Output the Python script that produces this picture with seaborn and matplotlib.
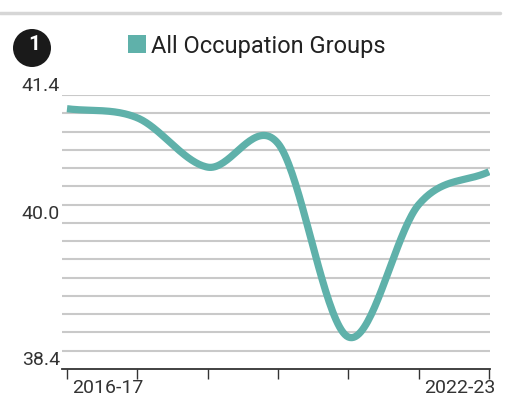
import numpy as np
import pandas as pd
import seaborn as sns
import matplotlib.pyplot as plt
import matplotlib as mpl
from matplotlib.patches import Patch, Ellipse
from matplotlib.lines import Line2D
from matplotlib.transforms import ScaledTranslation

years = ["2016-17", "2017-18", "2018-19", "2019-20", "2020-21", "2021-22", "2022-23"]
values = [41.25, 41.15, 40.61, 40.87, 38.75, 40.20, 40.56]
series_name = "All Occupation Groups"
y_labels = {41.4: "41.4", 40.0: "40.0", 38.4: "38.4"}

line_color = "#5fb1aa"
grid_color = "#c9c9c9"

sns.set_style("white")
mpl.rcParams["font.family"] = ["Roboto", "DejaVu Sans"]


def smooth(xs, ys, n=40):
    # catmull-rom so the curve passes through every point
    xs = np.asarray(xs, float)
    ys = np.asarray(ys, float)
    m = np.gradient(ys, xs)
    out_x, out_y = [], []
    for i in range(len(xs) - 1):
        t = np.linspace(0, 1, n, endpoint=False)
        h = xs[i + 1] - xs[i]
        h00 = 2 * t**3 - 3 * t**2 + 1
        h10 = t**3 - 2 * t**2 + t
        h01 = -2 * t**3 + 3 * t**2
        h11 = t**3 - t**2
        out_x.append(xs[i] + t * h)
        out_y.append(h00 * ys[i] + h10 * h * m[i] + h01 * ys[i + 1] + h11 * h * m[i + 1])
    out_x.append([xs[-1]])
    out_y.append([ys[-1]])
    return np.concatenate(out_x), np.concatenate(out_y)


xs = np.arange(len(years))
sx, sy = smooth(xs, values)
df = pd.DataFrame({"x": sx, "value": sy})

fig = plt.figure(figsize=(5.1, 4.08), dpi=100)
ax = fig.add_axes([62 / 510, 39 / 408, 428 / 510, 274 / 408])

grid_vals = np.round(np.arange(38.4, 41.41, 0.2), 1)
for g in grid_vals[1:]:
    ax.axhline(g, color=grid_color, lw=1.5, zorder=0)

sns.lineplot(data=df, x="x", y="value", color=line_color, lw=5.2,
             solid_capstyle="butt", ax=ax, legend=False, zorder=3)

ax.set_xlim(-0.071, 6.014)
ax.set_ylim(38.4, 41.4)
ax.set_xlabel("")
ax.set_ylabel("")

ax.set_yticks(grid_vals)
ax.set_yticklabels([y_labels.get(float(g), "") for g in grid_vals], fontsize=14, color="#333333")
for lab in ax.get_yticklabels():
    lab.set_verticalalignment("bottom")
ax.tick_params(axis="y", length=0, pad=1.5)

ax.set_xticks(xs)
ax.set_xticklabels([y if i in (0, len(years) - 1) else "" for i, y in enumerate(years)],
                   fontsize=14, color="#333333")
ax.tick_params(axis="x", bottom=True, length=7.5, width=1.0, color="#333333", pad=0,
               direction="out")
xl = ax.get_xticklabels()
xl[0].set_horizontalalignment("left")
xl[0].set_transform(xl[0].get_transform() + ScaledTranslation(5 / 100, 0, fig.dpi_scale_trans))
xl[-1].set_horizontalalignment("right")
xl[-1].set_transform(xl[-1].get_transform() + ScaledTranslation(6 / 100, 0, fig.dpi_scale_trans))

sns.despine(ax=ax, left=True)
ax.spines["bottom"].set_color("#333333")
ax.spines["bottom"].set_linewidth(1.3)

handle = Patch(facecolor=line_color, edgecolor="none")
fig.legend([handle], [series_name], loc="center left", bbox_to_anchor=(128 / 510, 1 - 46 / 408),
           frameon=False, fontsize=17, handlelength=0.78, handleheight=0.78,
           handletextpad=0.2, borderpad=0, borderaxespad=0, labelcolor="#222222")

# badge and top rule
fig.add_artist(Ellipse((32 / 510, 1 - 48 / 408), 38 / 510, 38 / 408,
                       transform=fig.transFigure, facecolor="#1a1a1a", edgecolor="none"))
fig.text(34 / 510, 1 - 44 / 408, "1", color="white", fontsize=15, fontweight="bold",
         ha="center", va="center")
fig.add_artist(Line2D([0, 500 / 510], [1 - 13 / 408, 1 - 13 / 408], transform=fig.transFigure,
                      color="#d6d6d6", lw=2.5))

fig.savefig("out.png", dpi=100)
